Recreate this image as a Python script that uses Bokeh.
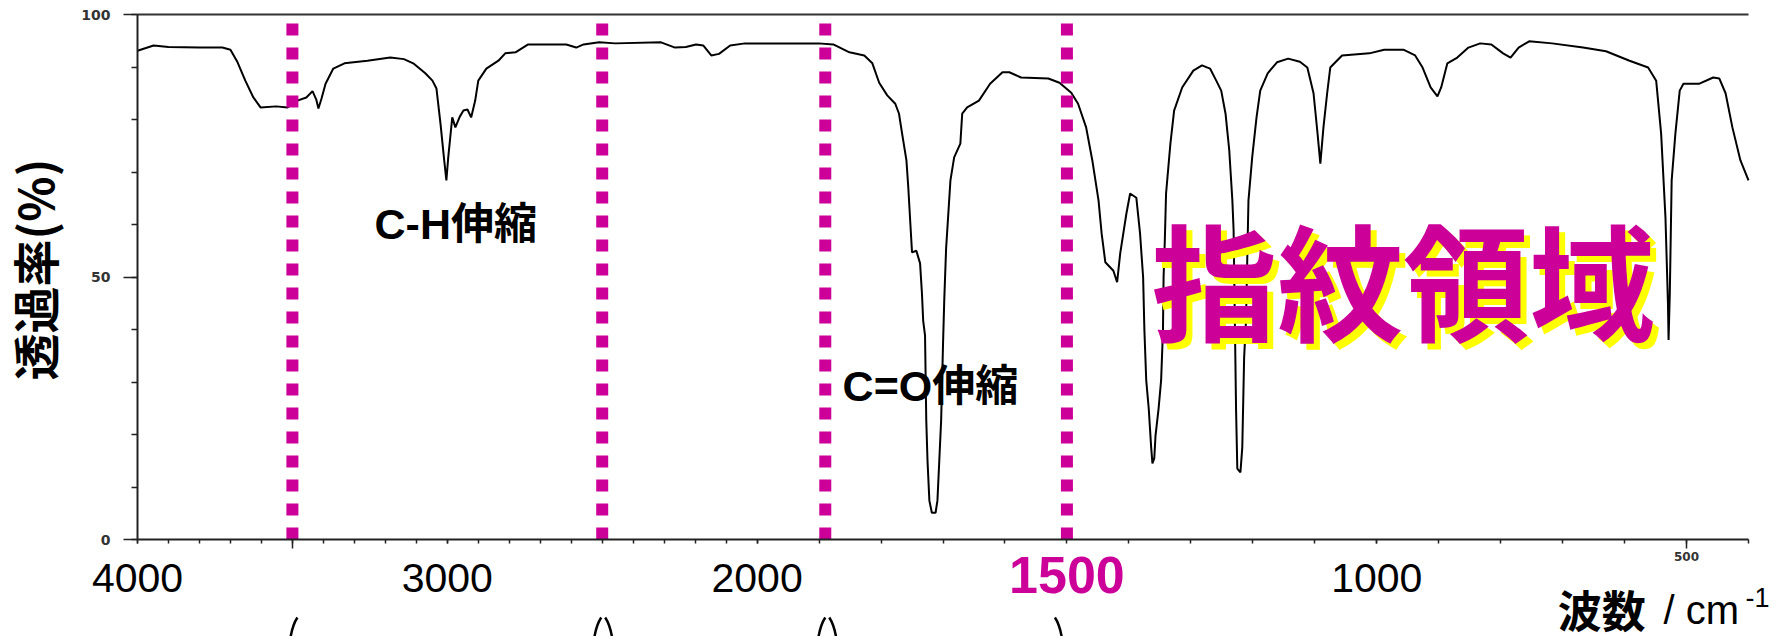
import math
import numpy as np
from bokeh.plotting import figure
from bokeh.models import FixedTicker, Label, Range1d, LinearAxis
from bokeh.embed import file_html
from bokeh.resources import INLINE

# ---- data ----
wavenumber = [4000, 3948, 3900, 3800, 3726, 3700, 3677, 3652, 3626, 3603, 3552, 3516, 3484, 3455,
              3435, 3423, 3416, 3406, 3393, 3368, 3332, 3258, 3184, 3140, 3110, 3071, 3048, 3035,
              3022, 3010, 3003, 2997, 2984, 2974, 2960, 2948, 2935, 2923, 2910, 2900, 2874, 2835,
              2813, 2780, 2739, 2616, 2584, 2560, 2510, 2458, 2310, 2265, 2230, 2197, 2174, 2148,
              2123, 2087, 2039, 1969, 1901, 1877, 1851, 1827, 1814, 1803, 1790, 1777, 1771, 1766,
              1759, 1756, 1753, 1750, 1743, 1737, 1734, 1732, 1729, 1727, 1725, 1722, 1718, 1712,
              1709, 1706, 1703, 1700, 1698, 1695, 1688, 1682, 1672, 1669, 1661, 1642, 1624, 1604,
              1593, 1574, 1530, 1512, 1493, 1482, 1469, 1459, 1449, 1444, 1438, 1425, 1419, 1414,
              1404, 1398, 1388, 1382, 1377, 1375, 1372, 1368, 1364, 1362, 1359, 1357, 1352, 1348,
              1345, 1344, 1342, 1340, 1333, 1327, 1314, 1296, 1282, 1269, 1259, 1251, 1244, 1238,
              1233, 1231, 1229, 1227, 1225, 1220, 1217, 1214, 1211, 1207, 1201, 1194, 1188, 1176,
              1161, 1143, 1124, 1112, 1102, 1096, 1091, 1086, 1080, 1075, 1056, 1012, 988, 957,
              938, 926, 913, 902, 896, 886, 870, 852, 833, 815, 796, 784, 771, 754, 717, 667, 630,
              592, 562, 549, 541, 534, 530, 529, 527, 524, 518, 511, 505, 480, 457, 447, 437, 426,
              413, 400]
transmittance = [93.1, 94.1, 93.8, 93.7, 93.7, 93.3, 90.9, 87.4, 84.2, 82.3, 82.5, 82.3, 83.6, 84.2,
                 85.4, 83.8, 82.1, 84.0, 86.8, 89.7, 90.7, 91.2, 91.8, 91.5, 90.7, 88.8, 87.4, 85.9,
                 79.2, 72.2, 68.4, 72.8, 80.4, 78.5, 80.5, 81.7, 81.9, 80.4, 83.6, 87.4, 89.7, 91.2,
                 92.6, 92.8, 94.3, 94.3, 93.7, 94.3, 94.7, 94.5, 94.7, 93.7, 93.8, 94.3, 94.1, 92.2,
                 92.5, 94.1, 94.5, 94.5, 94.5, 94.3, 92.8, 92.2, 90.7, 87.0, 84.6, 83.0, 81.1, 77.3,
                 72.2, 67.0, 60.8, 54.7, 55.0, 52.6, 46.9, 41.7, 38.9, 22.7, 15.0, 7.4, 5.1, 5.1,
                 7.4, 15.0, 22.7, 37.0, 45.5, 55.4, 68.4, 72.8, 75.4, 81.1, 82.3, 83.6, 86.8, 89.0,
                 89.0, 88.0, 87.8, 87.0, 85.1, 83.0, 78.5, 72.2, 64.6, 58.3, 52.8, 51.2, 49.0, 54.5,
                 62.1, 65.9, 65.1, 58.3, 49.9, 40.0, 30.3, 25.0, 17.5, 14.5, 15.5, 19.8, 25.0, 30.3,
                 39.8, 50.0, 57.0, 65.9, 75.4, 81.7, 86.1, 89.3, 90.3, 89.7, 87.4, 85.5, 81.1, 74.1,
                 64.6, 58.9, 41.7, 24.6, 13.5, 12.8, 17.5, 34.7, 41.7, 64.6, 72.8, 80.4, 85.5, 88.8,
                 90.9, 91.6, 91.0, 89.9, 85.0, 77.9, 71.6, 78.5, 85.0, 89.9, 92.2, 92.6, 93.3, 93.3,
                 92.2, 89.9, 86.1, 84.4, 86.1, 90.7, 91.8, 93.7, 94.5, 94.3, 92.6, 91.8, 93.7, 94.9,
                 94.5, 93.7, 93.0, 91.2, 89.9, 87.4, 77.3, 61.3, 45.0, 38.0, 46.9, 68.4, 77.3, 85.5,
                 86.8, 86.8, 88.0, 87.8, 85.0, 78.5, 72.2, 68.4]

region_bounds = [3500, 2500, 1890, 1500]          # dotted magenta dividers (cm-1)
x_tick_values = [4000, 3000, 2000, 1000]          # large black tick labels
highlight_tick = 1500                             # magenta tick label
small_tick = 500                                  # tiny original tick label
long_ticks = [3500, 500]
y_tick_values = [0, 50, 100]
band_texts = ["C-H伸縮", "C=O伸縮"]
band_positions = [3235, 1862]                      # wavenumber where each label starts
band_levels = [60.1, 29.3]
region_text = "指紋領域"
x_title_parts = ["波数", "/ cm", "-1"]
y_title = "透過率(%)"

MAGENTA = "#CC0099"
W, H = 1785, 636


def xpos(w):
    """IR axis with a scale change at 2000 cm-1 (region below 2000 is expanded 2x)."""
    w = np.asarray(w, dtype=float)
    return np.where(w >= 2000, (4000.0 - w) / 2.0, 1000.0 + (2000.0 - w))


def fx(w):
    return float(xpos(w))


# frame spans the whole canvas; the axes are pinned at x=4000 / T=0
XS = 1611 / 2600.0      # px per axis unit
YS = 5.25               # px per % T
x_lo, x_hi = -137 / XS, 2600 + (W - 1748) / XS
y_lo, y_hi = -(H - 539) / YS, 100 + 14 / YS

p = figure(width=W, height=H, output_backend="svg", toolbar_location=None,
           x_range=Range1d(x_lo, x_hi), y_range=Range1d(y_lo, y_hi),
           min_border=0, min_border_left=0, min_border_right=0,
           min_border_top=0, min_border_bottom=0)
p.outline_line_color = None
p.grid.visible = False
p.background_fill_color = "white"
p.border_fill_color = "white"

AX = "#222222"

# ---- x axis ----
major_x = [fx(t) for t in x_tick_values]
minor_x = [fx(t) for t in range(4000, 399, -100)]
xa = p.xaxis[0]
xa.fixed_location = 0
xa.bounds = (0, 2600)
xa.ticker = FixedTicker(ticks=major_x, minor_ticks=minor_x)
xa.major_label_overrides = {fx(t): str(t) for t in x_tick_values}
xa.major_label_text_font = "Liberation Sans"
xa.major_label_text_font_size = "41px"
xa.major_label_text_color = "black"
xa.major_label_standoff = 20
xa.axis_line_color = AX
xa.axis_line_width = 2
xa.major_tick_in = 0
xa.minor_tick_in = 0
xa.major_tick_out = 4
xa.minor_tick_out = 4
xa.major_tick_line_color = AX
xa.minor_tick_line_color = AX
xa.major_tick_line_width = 1.5
xa.minor_tick_line_width = 1.5

# magenta 1500 label
ax15 = LinearAxis(fixed_location=0, bounds=(0, 2600),
                  ticker=FixedTicker(ticks=[fx(highlight_tick)]),
                  major_label_overrides={fx(highlight_tick): str(highlight_tick)},
                  axis_line_color=None, major_tick_line_color=None, minor_tick_line_color=None,
                  major_tick_out=0, major_tick_in=0, minor_tick_out=0, minor_tick_in=0,
                  major_label_standoff=17, major_label_text_font="Liberation Sans",
                  major_label_text_font_style="bold", major_label_text_font_size="52px",
                  major_label_text_color=MAGENTA)
p.add_layout(ax15, "below")

# long original ticks (3500, 500) with the tiny "500" label
axs = LinearAxis(fixed_location=0, bounds=(0, 2600),
                 ticker=FixedTicker(ticks=[fx(t) for t in long_ticks]),
                 major_label_overrides={fx(3500): "", fx(small_tick): str(small_tick)},
                 axis_line_color=None, major_tick_line_color=AX, major_tick_line_width=1.5,
                 minor_tick_line_color=None, major_tick_out=9, major_tick_in=0,
                 major_label_standoff=3, major_label_text_font="DejaVu Sans",
                 major_label_text_font_style="bold", major_label_text_font_size="12px",
                 major_label_text_color="#333333")
p.add_layout(axs, "below")

# top border line
top = LinearAxis(fixed_location=100, bounds=(0, 2600), ticker=FixedTicker(ticks=[]),
                 axis_line_color="#333333", axis_line_width=2,
                 major_tick_line_color=None, minor_tick_line_color=None,
                 major_label_text_font_size="0px")
p.add_layout(top, "above")

# ---- y axis ----
ya = p.yaxis[0]
ya.fixed_location = 0
ya.bounds = (0, 100)
ya.ticker = FixedTicker(ticks=y_tick_values, minor_ticks=list(range(0, 101, 10)))
ya.major_label_text_font = "DejaVu Sans"
ya.major_label_text_font_style = "bold"
ya.major_label_text_font_size = "14px"
ya.major_label_text_color = "#333333"
ya.major_label_standoff = 13
ya.major_tick_in = 0
ya.minor_tick_in = 0
ya.major_tick_out = 14
ya.minor_tick_out = 6
ya.axis_line_color = AX
ya.axis_line_width = 2
ya.major_tick_line_color = AX
ya.minor_tick_line_color = AX
ya.major_tick_line_width = 1.5
ya.minor_tick_line_width = 1.5

# ---- spectrum ----
p.line(list(xpos(wavenumber)), transmittance, line_color="black", line_width=2)

# ---- dotted region dividers ----
bx = [fx(b) for b in region_bounds]
p.segment(x0=bx, y0=[0] * len(bx), x1=bx, y1=[98.6] * len(bx),
          line_color=MAGENTA, line_width=12, line_dash="12 12", line_cap="butt")

# ---- brackets under the regions (tops only; cut off by the bottom edge) ----
# (pixel offset of each stroke from its divider; +1 leans like "(" , -1 like ")")
bracket_strokes = [(3500, 0, 1), (2500, -6, 1), (2500, 8, -1),
                   (1890, -5, 1), (1890, 9, -1), (1500, -7, -1)]
bxs0, bys0, bxs1, bys1, bcx, bcy = [], [], [], [], [], []
for b, off, d in bracket_strokes:
    c = fx(b) + off / XS
    bxs0.append(c + d * 5 / XS); bys0.append(-(617 - 539) / YS)
    bcx.append(c - d * 1 / XS);  bcy.append(-(626 - 539) / YS)
    bxs1.append(c - d * 3 / XS); bys1.append(-(645 - 539) / YS)
p.quadratic(x0=bxs0, y0=bys0, x1=bxs1, y1=bys1, cx=bcx, cy=bcy,
            line_color="black", line_width=2.5)

# ---- y title ----
p.add_layout(Label(x=-104 / XS, y=51.4, text=y_title, angle=math.pi / 2,
                   text_font="Noto Sans CJK JP", text_font_style="bold",
                   text_font_size="47px", text_color="black",
                   text_align="center", text_baseline="middle"))

# ---- band labels ----
for txt, w, lvl in zip(band_texts, band_positions, band_levels):
    p.add_layout(Label(x=fx(w), y=lvl, text=txt,
                       text_font="Liberation Sans, Noto Sans CJK JP",
                       text_font_style="bold", text_font_size="43px", text_color="black",
                       text_align="left", text_baseline="alphabetic"))

# ---- fingerprint region title with yellow shadow ----
for col, dx, dy in (("#FFFF00", 6, -6), (MAGENTA, 0, 0)):
    p.add_layout(Label(x=fx(957), y=50.0, text=region_text, x_offset=dx, y_offset=dy,
                       text_font="Noto Sans CJK JP", text_font_style="bold",
                       text_font_size="126px", text_color=col,
                       text_align="center", text_baseline="middle"))

# ---- x title: 波数 / cm-1 ----
p.add_layout(Label(x=fx(708), y=-13.3, text=x_title_parts[0],
                   text_font="Noto Sans CJK JP", text_font_style="bold",
                   text_font_size="44px", text_color="black",
                   text_align="left", text_baseline="alphabetic"))
p.add_layout(Label(x=fx(537), y=-13.5, text=x_title_parts[1],
                   text_font="Liberation Sans", text_font_size="40px",
                   text_color="black", text_align="left", text_baseline="alphabetic"))
p.add_layout(Label(x=fx(405), y=-11.0, text=x_title_parts[2],
                   text_font="Liberation Sans", text_font_size="27px",
                   text_color="black", text_align="left", text_baseline="alphabetic"))

open("out.html", "w").write(file_html(p, INLINE))
